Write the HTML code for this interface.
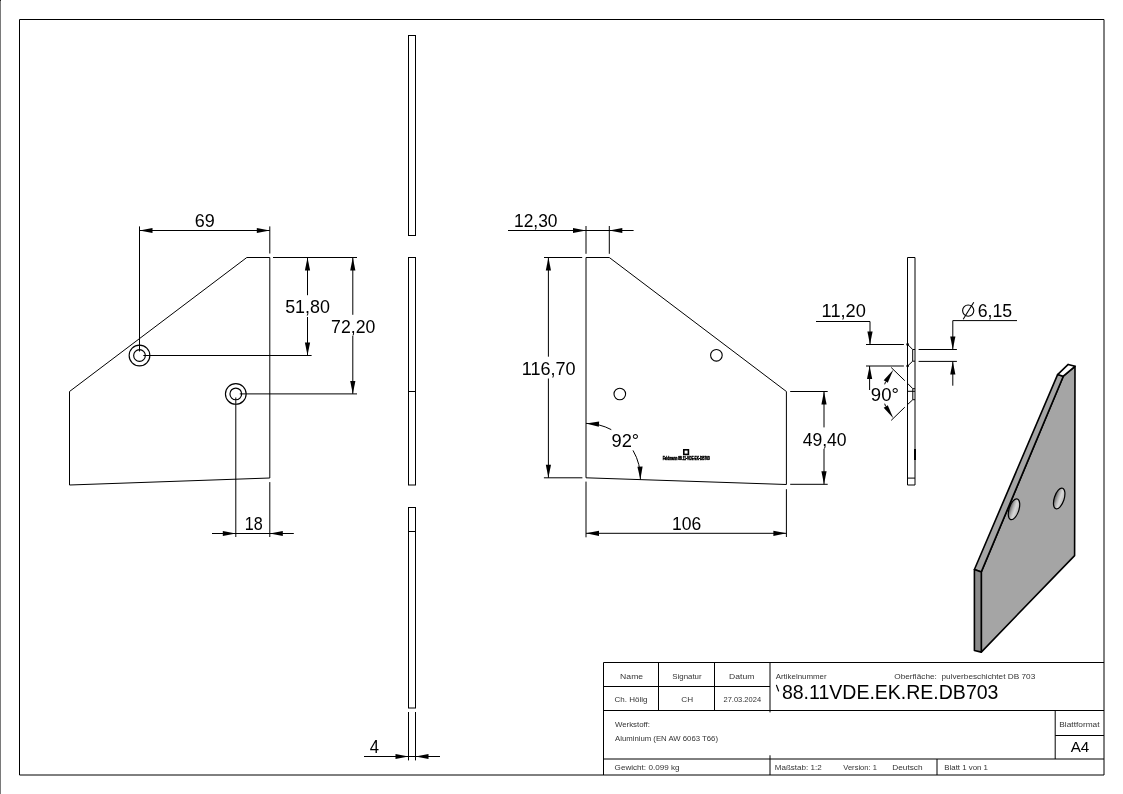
<!DOCTYPE html>
<html><head><meta charset="utf-8"><style>
html,body{margin:0;padding:0;background:#fff;}
svg{display:block;}
text{font-family:"Liberation Sans",sans-serif;}
.gs{will-change:transform;}
</style></head><body>
<svg class="gs" width="1123" height="794" viewBox="0 0 1123 794">
<line x1="0.5" y1="0" x2="0.5" y2="794" stroke="#7a7a7a" stroke-width="1"/>
<rect x="0" y="0" width="1" height="1" fill="#222"/>
<path d="M19.5,775 L19.5,19.5 L1104,19.5 L1104,775 Z" fill="none" stroke="#000" stroke-width="1"/>
<polygon points="69.50,391.50 246.80,257.50 269.80,257.50 269.80,478.00 69.50,485.00" fill="none" stroke="#000" stroke-width="1" />
<circle cx="139.5" cy="355.5" r="10.35" fill="none" stroke="#000" stroke-width="1.15"/>
<circle cx="139.5" cy="355.5" r="5.85" fill="none" stroke="#000" stroke-width="1.15"/>
<circle cx="235.8" cy="393.9" r="10.35" fill="none" stroke="#000" stroke-width="1.15"/>
<circle cx="235.8" cy="393.9" r="5.85" fill="none" stroke="#000" stroke-width="1.15"/>
<line x1="139.5" y1="226.4" x2="139.5" y2="351.5" stroke="#000" stroke-width="1"/>
<line x1="269.8" y1="226.4" x2="269.8" y2="253.5" stroke="#000" stroke-width="1"/>
<line x1="139.5" y1="230.5" x2="269.8" y2="230.5" stroke="#000" stroke-width="1"/>
<polygon points="139.50,230.50 152.50,233.10 152.50,227.90" fill="#000" stroke="none"/>
<polygon points="269.80,230.50 256.80,227.90 256.80,233.10" fill="#000" stroke="none"/>
<line x1="273" y1="257.5" x2="357" y2="257.5" stroke="#000" stroke-width="1"/>
<line x1="143.3" y1="355.5" x2="311.6" y2="355.5" stroke="#000" stroke-width="1"/>
<line x1="307.5" y1="257.5" x2="307.5" y2="295.2" stroke="#000" stroke-width="1"/>
<line x1="307.5" y1="317" x2="307.5" y2="355.5" stroke="#000" stroke-width="1"/>
<polygon points="307.50,257.50 304.90,270.50 310.10,270.50" fill="#000" stroke="none"/>
<polygon points="307.50,355.50 310.10,342.50 304.90,342.50" fill="#000" stroke="none"/>
<line x1="239.8" y1="393.9" x2="357" y2="393.9" stroke="#000" stroke-width="1"/>
<line x1="352.8" y1="257.5" x2="352.8" y2="314.8" stroke="#000" stroke-width="1"/>
<line x1="352.8" y1="336" x2="352.8" y2="393.9" stroke="#000" stroke-width="1"/>
<polygon points="352.80,257.50 350.20,270.50 355.40,270.50" fill="#000" stroke="none"/>
<polygon points="352.80,393.90 355.40,380.90 350.20,380.90" fill="#000" stroke="none"/>
<line x1="235.8" y1="397.5" x2="235.8" y2="537" stroke="#000" stroke-width="1"/>
<line x1="269.8" y1="482.1" x2="269.8" y2="537" stroke="#000" stroke-width="1"/>
<line x1="212" y1="533.5" x2="293.8" y2="533.5" stroke="#000" stroke-width="1"/>
<polygon points="235.80,533.50 222.80,530.90 222.80,536.10" fill="#000" stroke="none"/>
<polygon points="269.80,533.50 282.80,536.10 282.80,530.90" fill="#000" stroke="none"/>
<rect x="408.5" y="35.5" width="7" height="200" fill="none" stroke="#000"/>
<rect x="408.5" y="257.5" width="7" height="227.5" fill="none" stroke="#000"/>
<line x1="408.5" y1="391.5" x2="415.5" y2="391.5" stroke="#000" stroke-width="1"/>
<rect x="408.5" y="507.5" width="7" height="200.5" fill="none" stroke="#000"/>
<line x1="408.5" y1="531.5" x2="415.5" y2="531.5" stroke="#000" stroke-width="1"/>
<line x1="408.5" y1="712" x2="408.5" y2="760.4" stroke="#000" stroke-width="1"/>
<line x1="415.5" y1="712" x2="415.5" y2="760.4" stroke="#000" stroke-width="1"/>
<line x1="364" y1="756.5" x2="440" y2="756.5" stroke="#000" stroke-width="1"/>
<polygon points="408.50,756.50 395.50,753.90 395.50,759.10" fill="#000" stroke="none"/>
<polygon points="415.50,756.50 428.50,759.10 428.50,753.90" fill="#000" stroke="none"/>
<polygon points="586.00,257.50 609.30,257.50 786.40,391.50 786.40,484.50 586.00,477.80" fill="none" stroke="#000" stroke-width="1" />
<circle cx="716.4" cy="355.3" r="5.8" fill="none" stroke="#000" stroke-width="1.1"/>
<circle cx="619.8" cy="394" r="5.8" fill="none" stroke="#000" stroke-width="1.1"/>
<line x1="586" y1="226" x2="586" y2="253.8" stroke="#000" stroke-width="1"/>
<line x1="609.3" y1="226" x2="609.3" y2="253.8" stroke="#000" stroke-width="1"/>
<line x1="508" y1="230.5" x2="633.6" y2="230.5" stroke="#000" stroke-width="1"/>
<polygon points="586.00,230.50 573.00,227.90 573.00,233.10" fill="#000" stroke="none"/>
<polygon points="609.30,230.50 622.30,233.10 622.30,227.90" fill="#000" stroke="none"/>
<line x1="544" y1="257.5" x2="582.2" y2="257.5" stroke="#000" stroke-width="1"/>
<line x1="543.9" y1="477.8" x2="582.4" y2="477.8" stroke="#000" stroke-width="1"/>
<line x1="548.4" y1="257.5" x2="548.4" y2="356.7" stroke="#000" stroke-width="1"/>
<line x1="548.4" y1="378.5" x2="548.4" y2="477.8" stroke="#000" stroke-width="1"/>
<polygon points="548.40,257.50 545.80,270.50 551.00,270.50" fill="#000" stroke="none"/>
<polygon points="548.40,477.80 551.00,464.80 545.80,464.80" fill="#000" stroke="none"/>
<line x1="790.2" y1="391.5" x2="827.7" y2="391.5" stroke="#000" stroke-width="1"/>
<line x1="790.2" y1="484.3" x2="827.7" y2="484.3" stroke="#000" stroke-width="1"/>
<line x1="824" y1="391.5" x2="824" y2="427.4" stroke="#000" stroke-width="1"/>
<line x1="824" y1="448.8" x2="824" y2="484.3" stroke="#000" stroke-width="1"/>
<polygon points="824.00,391.50 821.40,404.50 826.60,404.50" fill="#000" stroke="none"/>
<polygon points="824.00,484.30 826.60,471.30 821.40,471.30" fill="#000" stroke="none"/>
<line x1="586" y1="481.6" x2="586" y2="537.3" stroke="#000" stroke-width="1"/>
<line x1="786.4" y1="489.2" x2="786.4" y2="537" stroke="#000" stroke-width="1"/>
<line x1="586" y1="533.3" x2="786.4" y2="533.3" stroke="#000" stroke-width="1"/>
<polygon points="586.00,533.30 599.00,535.90 599.00,530.70" fill="#000" stroke="none"/>
<polygon points="786.40,533.30 773.40,530.70 773.40,535.90" fill="#000" stroke="none"/>
<path d="M586.00,423.40 A54.4,54.4 0 0 1 611.28,429.63" fill="none" stroke="#000"/>
<path d="M633.01,450.42 A54.4,54.4 0 0 1 640.37,479.62" fill="none" stroke="#000"/>
<polygon points="586.00,423.40 598.82,426.77 599.13,421.58" fill="#000" stroke="none"/>
<polygon points="640.37,479.62 642.62,466.55 637.43,466.69" fill="#000" stroke="none"/>
<rect x="683.8" y="449.8" width="4.6" height="4.6" fill="none" stroke="#000" stroke-width="1.6"/>
<text x="662.7" y="459.8" font-size="5" font-weight="bold" textLength="47" lengthAdjust="spacingAndGlyphs" fill="#000" stroke="#000" stroke-width="0.5">Feldmann 88.11-VDE-EK-DB703</text>
<path d="M907.5,257.5 L915,257.5 M907.5,257.5 L907.5,485 L915,485 M915,257.5 L915,485" fill="none" stroke="#000"/>
<line x1="907.5" y1="391.3" x2="915" y2="391.3" stroke="#000" stroke-width="1"/>
<line x1="907.5" y1="478.1" x2="915" y2="478.1" stroke="#000" stroke-width="1"/>
<polyline points="907.60,344.40 912.70,349.50 912.70,361.20 907.60,366.00" fill="none" stroke="#000" stroke-width="1"/>
<line x1="912.7" y1="349.5" x2="915" y2="349.5" stroke="#000" stroke-width="1"/>
<line x1="912.7" y1="361.2" x2="915" y2="361.2" stroke="#000" stroke-width="1"/>
<circle cx="907.6" cy="344.4" r="1.3" fill="#000" stroke="#000" stroke-width="0"/>
<circle cx="907.6" cy="366" r="1.3" fill="#000" stroke="#000" stroke-width="0"/>
<polyline points="907.60,383.40 912.80,388.70 912.80,399.70 907.60,404.50" fill="none" stroke="#000" stroke-width="1"/>
<line x1="912.8" y1="388.7" x2="915" y2="388.7" stroke="#000" stroke-width="1"/>
<line x1="912.8" y1="399.7" x2="915" y2="399.7" stroke="#000" stroke-width="1"/>
<rect x="914" y="449" width="2" height="11" fill="#000"/>
<polyline points="816.00,321.50 870.00,321.50 870.00,344.40" fill="none" stroke="#000" stroke-width="1"/>
<polygon points="870.00,344.40 872.60,331.40 867.40,331.40" fill="#000" stroke="none"/>
<line x1="866" y1="344.5" x2="903.9" y2="344.5" stroke="#000" stroke-width="1"/>
<line x1="866" y1="366" x2="903.9" y2="366" stroke="#000" stroke-width="1"/>
<line x1="869.6" y1="366" x2="869.6" y2="390" stroke="#000" stroke-width="1"/>
<polygon points="869.60,366.00 867.00,379.00 872.20,379.00" fill="#000" stroke="none"/>
<line x1="918.6" y1="349.5" x2="956.9" y2="349.5" stroke="#000" stroke-width="1"/>
<line x1="918.6" y1="361.4" x2="956.9" y2="361.4" stroke="#000" stroke-width="1"/>
<polyline points="1017.00,320.60 952.80,320.60 952.80,349.40" fill="none" stroke="#000" stroke-width="1"/>
<polygon points="952.80,349.40 955.40,336.40 950.20,336.40" fill="#000" stroke="none"/>
<line x1="952.8" y1="361.4" x2="952.8" y2="385.7" stroke="#000" stroke-width="1"/>
<polygon points="952.80,361.40 950.20,374.40 955.40,374.40" fill="#000" stroke="none"/>
<circle cx="968.2" cy="310.6" r="5.6" fill="none" stroke="#000" stroke-width="1.1"/>
<line x1="963.2" y1="319.2" x2="973.8" y2="302.2" stroke="#000" stroke-width="1.1"/>
<line x1="891.2" y1="367.5" x2="904.8" y2="380.7" stroke="#000" stroke-width="1"/>
<line x1="891.2" y1="420.4" x2="904.8" y2="407.2" stroke="#000" stroke-width="1"/>
<polygon points="893.35,369.75 883.71,380.19 887.74,382.80" fill="#000" stroke="none"/>
<line x1="885.56" y1="381.74" x2="884.69" y2="384.34" stroke="#000" stroke-width="1"/>
<polygon points="893.35,418.25 887.74,405.20 883.71,407.81" fill="#000" stroke="none"/>
<line x1="885.56" y1="406.26" x2="884.69" y2="403.66" stroke="#000" stroke-width="1"/>
<polygon points="1063.30,376.20 1075.00,366.30 1074.60,555.60 981.30,652.10 981.30,571.90" fill="#a5a5a5" stroke="#000" stroke-width="1.6" stroke-linejoin="round"/>
<polygon points="1057.60,374.60 1063.30,376.20 981.30,571.90 974.40,569.50" fill="#a5a5a5" stroke="#000" stroke-width="1.6" stroke-linejoin="round"/>
<polygon points="974.40,569.50 981.30,571.90 981.30,652.10 974.40,650.50" fill="#8a8a8a" stroke="#000" stroke-width="1.6" stroke-linejoin="round"/>
<polygon points="1057.60,374.60 1068.20,364.40 1075.00,366.30 1063.30,376.20" fill="#fff" stroke="#000" stroke-width="1.6" stroke-linejoin="round"/>
<defs><linearGradient id="hg" x1="0" y1="0" x2="1" y2="0"><stop offset="0" stop-color="#555"/><stop offset="0.35" stop-color="#b0b0b0"/><stop offset="0.6" stop-color="#d8d8d8"/><stop offset="1" stop-color="#b8b8b8"/></linearGradient></defs>
<ellipse cx="1014" cy="509.3" rx="4.9" ry="10.8" transform="rotate(18 1014 509.3)" fill="url(#hg)" stroke="#000" stroke-width="1.2"/>
<ellipse cx="1059.2" cy="498.5" rx="4.9" ry="10.8" transform="rotate(18 1059.2 498.5)" fill="url(#hg)" stroke="#000" stroke-width="1.2"/>
<path d="M603.5,775 L603.5,662.5 L1104,662.5" fill="none" stroke="#000"/>
<line x1="603.5" y1="686.5" x2="770" y2="686.5" stroke="#000" stroke-width="1"/>
<line x1="603.5" y1="710.5" x2="1104" y2="710.5" stroke="#000" stroke-width="1"/>
<line x1="603.5" y1="759" x2="1104" y2="759" stroke="#000" stroke-width="1"/>
<line x1="658.5" y1="662.5" x2="658.5" y2="710.5" stroke="#000" stroke-width="1"/>
<line x1="714.5" y1="662.5" x2="714.5" y2="710.5" stroke="#000" stroke-width="1"/>
<line x1="770" y1="662.5" x2="770" y2="712.4" stroke="#000" stroke-width="1"/>
<line x1="770" y1="755.3" x2="770" y2="775" stroke="#000" stroke-width="1"/>
<line x1="937" y1="759" x2="937" y2="775" stroke="#000" stroke-width="1"/>
<line x1="1055.2" y1="710.5" x2="1055.2" y2="759" stroke="#000" stroke-width="1"/>
<line x1="1055.2" y1="735.5" x2="1104" y2="735.5" stroke="#000" stroke-width="1"/>
<text id="t_69" x="194.70" y="227.00" font-size="18.10" fill="#000" textLength="20.04" lengthAdjust="spacingAndGlyphs">69</text>
<text id="t_5180" x="285.18" y="313.30" font-size="18.10" fill="#000" textLength="44.78" lengthAdjust="spacingAndGlyphs">51,80</text>
<text id="t_7220" x="331.12" y="332.50" font-size="18.10" fill="#000" textLength="44.24" lengthAdjust="spacingAndGlyphs">72,20</text>
<text id="t_18" x="244.71" y="529.60" font-size="18.10" fill="#000" textLength="17.98" lengthAdjust="spacingAndGlyphs">18</text>
<text id="t_4" x="369.87" y="752.80" font-size="18.10" fill="#000" textLength="9.27" lengthAdjust="spacingAndGlyphs">4</text>
<text id="t_1230" x="514.01" y="226.70" font-size="18.10" fill="#000" textLength="43.53" lengthAdjust="spacingAndGlyphs">12,30</text>
<text id="t_11670" x="521.76" y="375.10" font-size="18.10" fill="#000" textLength="53.84" lengthAdjust="spacingAndGlyphs">116,70</text>
<text id="t_4940" x="802.65" y="445.60" font-size="18.10" fill="#000" textLength="44.00" lengthAdjust="spacingAndGlyphs">49,40</text>
<text id="t_106" x="672.10" y="529.60" font-size="18.10" fill="#000" textLength="29.25" lengthAdjust="spacingAndGlyphs">106</text>
<text id="t_92" x="611.49" y="446.80" font-size="18.10" fill="#000" textLength="27.65" lengthAdjust="spacingAndGlyphs">92°</text>
<text id="t_1120" x="821.64" y="317.40" font-size="18.10" fill="#000" textLength="44.26" lengthAdjust="spacingAndGlyphs">11,20</text>
<text id="t_615" x="977.71" y="317.10" font-size="18.10" fill="#000" textLength="34.51" lengthAdjust="spacingAndGlyphs">6,15</text>
<text id="t_90" x="870.87" y="401.00" font-size="18.10" fill="#000" textLength="28.09" lengthAdjust="spacingAndGlyphs">90°</text>
<text id="t_Name" x="620.11" y="679.20" font-size="7.60" fill="#333" textLength="23.00" lengthAdjust="spacingAndGlyphs">Name</text>
<text id="t_Signatur" x="672.31" y="679.20" font-size="7.60" fill="#333" textLength="29.31" lengthAdjust="spacingAndGlyphs">Signatur</text>
<text id="t_Datum" x="729.11" y="679.20" font-size="7.60" fill="#333" textLength="25.25" lengthAdjust="spacingAndGlyphs">Datum</text>
<text id="t_Art" x="775.70" y="679.20" font-size="7.60" fill="#333" textLength="50.93" lengthAdjust="spacingAndGlyphs">Artikelnummer</text>
<text id="t_Ober" x="894.29" y="679.20" font-size="7.60" fill="#333" textLength="140.95" lengthAdjust="spacingAndGlyphs">Oberfläche:&#160; pulverbeschichtet DB 703</text>
<text id="t_Holig" x="614.60" y="702.20" font-size="7.60" fill="#333" textLength="32.90" lengthAdjust="spacingAndGlyphs">Ch. Hölig</text>
<text id="t_CH" x="681.29" y="702.20" font-size="7.60" fill="#333" textLength="11.80" lengthAdjust="spacingAndGlyphs">CH</text>
<text id="t_Date" x="723.52" y="702.20" font-size="7.60" fill="#333" textLength="37.54" lengthAdjust="spacingAndGlyphs">27.03.2024</text>
<text id="t_Big" x="781.92" y="698.70" font-size="19.43" fill="#000" textLength="216.53" lengthAdjust="spacingAndGlyphs">88.11VDE.EK.RE.DB703</text>
<line x1="776.5" y1="685.4" x2="778.6" y2="691" stroke="#000" stroke-width="1.2" stroke-linecap="round"/>
<text id="t_Werk" x="614.92" y="726.70" font-size="7.60" fill="#333" textLength="35.02" lengthAdjust="spacingAndGlyphs">Werkstoff:</text>
<text id="t_Alu" x="615.00" y="740.90" font-size="7.60" fill="#333" textLength="102.99" lengthAdjust="spacingAndGlyphs">Aluminium (EN AW 6063 T66)</text>
<text id="t_Gew" x="614.59" y="769.80" font-size="7.60" fill="#333" textLength="64.93" lengthAdjust="spacingAndGlyphs">Gewicht: 0.099 kg</text>
<text id="t_Mass" x="774.76" y="769.80" font-size="7.60" fill="#333" textLength="46.91" lengthAdjust="spacingAndGlyphs">Maßstab: 1:2</text>
<text id="t_Ver" x="843.32" y="769.80" font-size="7.60" fill="#333" textLength="33.53" lengthAdjust="spacingAndGlyphs">Version: 1</text>
<text id="t_Deu" x="892.24" y="769.80" font-size="7.60" fill="#333" textLength="30.33" lengthAdjust="spacingAndGlyphs">Deutsch</text>
<text id="t_Blatt" x="944.27" y="769.80" font-size="7.60" fill="#333" textLength="43.72" lengthAdjust="spacingAndGlyphs">Blatt 1 von 1</text>
<text id="t_Bf" x="1059.33" y="726.90" font-size="7.60" fill="#333" textLength="40.21" lengthAdjust="spacingAndGlyphs">Blattformat</text>
<text id="t_A4" x="1070.70" y="751.70" font-size="14.20" fill="#000" textLength="18.61" lengthAdjust="spacingAndGlyphs">A4</text>
</svg>
</body></html>
